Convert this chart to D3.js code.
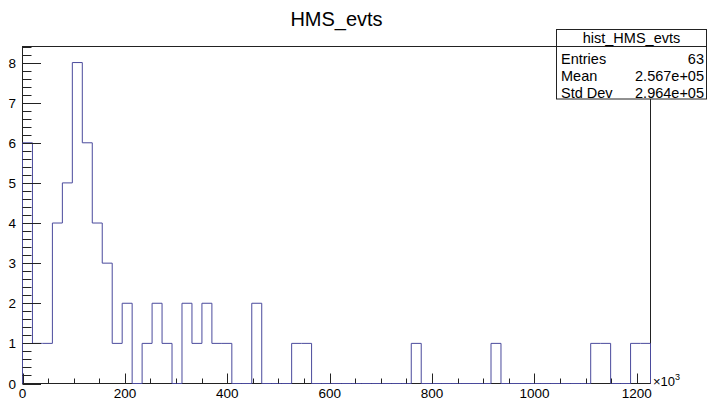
<!DOCTYPE html>
<html>
<head>
<meta charset="utf-8">
<script src="https://cdn.jsdelivr.net/npm/d3@7"></script>
<style>
  html, body { margin: 0; padding: 0; background: #fff; }
  svg { display: block; font-family: "Liberation Sans", Arial, Helvetica, sans-serif; }
</style>
</head>
<body>
<svg id="chart" width="711" height="402"></svg>
<script>
// ---- data ----
const title = "HMS_evts";
const histName = "hist_HMS_evts";
const xMax = 1226.6;          // upper edge of histogram range (x10^3)
const nBins = 63;
const counts = [
  6, 1, 1, 4, 5, 8, 6, 4, 3, 1,
  2, 0, 1, 2, 1, 0, 2, 1, 2, 1,
  1, 0, 0, 2, 0, 0, 0, 1, 1, 0,
  0, 0, 0, 0, 0, 0, 0, 0, 0, 1,
  0, 0, 0, 0, 0, 0, 0, 1, 0, 0,
  0, 0, 0, 0, 0, 0, 0, 1, 1, 0,
  0, 1, 1
];
const yMax = 8.4;
const xTickValues = [0, 200, 400, 600, 800, 1000, 1200];
const yTickValues = [0, 1, 2, 3, 4, 5, 6, 7, 8];
const statLabels = ["Entries", "Mean", "Std Dev"];
const statValues = ["63", "2.567e+05", "2.964e+05"];

// ---- layout ----
const pL = 22.5, pR = 650.5, pT = 46.5, pB = 383.5;
const svg = d3.select("#chart");

const x = d3.scaleLinear().domain([0, xMax]).range([pL, pR]);
const y = d3.scaleLinear().domain([0, yMax]).range([pB, pT]);
const binW = xMax / nBins;

// frame
svg.append("rect")
  .attr("x", pL).attr("y", pT)
  .attr("width", pR - pL).attr("height", pB - pT)
  .attr("fill", "none").attr("stroke", "#222").attr("stroke-width", 1);

// histogram outline
const pts = [[x(0), y(0)]];
counts.forEach((c, i) => {
  pts.push([x(i * binW), y(c)]);
  pts.push([x((i + 1) * binW), y(c)]);
});
pts.push([x(nBins * binW), y(0)]);
svg.append("path")
  .attr("d", d3.line()(pts))
  .attr("fill", "none")
  .attr("stroke", "#4a4a9c")
  .attr("stroke-width", 1);

// x axis ticks (inside, upward)
const xMinor = d3.range(0, xMax, 50);
svg.append("g").selectAll("line").data(xMinor).join("line")
  .attr("x1", d => Math.round(x(d)) + 0.5).attr("x2", d => Math.round(x(d)) + 0.5)
  .attr("y1", pB).attr("y2", d => pB - (d % 200 === 0 ? 10 : 5))
  .attr("stroke", "#222").attr("stroke-width", 1);
svg.append("g").selectAll("text").data(xTickValues).join("text")
  .attr("x", d => x(d)).attr("y", 398)
  .attr("text-anchor", "middle")
  .attr("font-size", 13.5)
  .text(d => d);
// x10^3 label
const mult = svg.append("text").attr("x", 653).attr("y", 386).attr("font-size", 13);
mult.append("tspan").text("\u00d710");
mult.append("tspan").attr("dy", -6).attr("font-size", 9).text("3");

// y axis ticks (inside, rightward)
const yMinor = d3.range(0, yMax + 1e-9, 0.2);
svg.append("g").selectAll("line").data(yMinor).join("line")
  .attr("x1", pL)
  .attr("x2", d => pL + (Math.abs(d - Math.round(d)) < 1e-6 ? 18.5 : 9))
  .attr("y1", d => Math.round(y(d)) + 0.5).attr("y2", d => Math.round(y(d)) + 0.5)
  .attr("stroke", "#222").attr("stroke-width", 1);
svg.append("g").selectAll("text").data(yTickValues).join("text")
  .attr("x", 16).attr("y", d => y(d) + 5)
  .attr("text-anchor", "end")
  .attr("font-size", 13.5)
  .text(d => d);

// title
svg.append("text")
  .attr("x", 336.5).attr("y", 26)
  .attr("text-anchor", "middle")
  .attr("font-size", 20)
  .text(title);

// stats box
const bx = 556.5, by = 29.5, bw = 150, bh = 69.5;
svg.append("rect")
  .attr("x", bx).attr("y", by).attr("width", bw).attr("height", bh)
  .attr("fill", "#fff").attr("stroke", "#222").attr("stroke-width", 1);
svg.append("line")
  .attr("x1", bx).attr("x2", bx + bw).attr("y1", 46.5).attr("y2", 46.5)
  .attr("stroke", "#222").attr("stroke-width", 1);
svg.append("text")
  .attr("x", bx + bw / 2).attr("y", 42.5)
  .attr("text-anchor", "middle")
  .attr("font-size", 14.5)
  .text(histName);
statLabels.forEach((lab, i) => {
  const yy = 63.5 + i * 17;
  svg.append("text").attr("x", 561).attr("y", yy).attr("font-size", 14.5).text(lab);
  svg.append("text").attr("x", 704).attr("y", yy).attr("text-anchor", "end")
    .attr("font-size", 14.5).text(statValues[i]);
});
</script>
</body>
</html>
